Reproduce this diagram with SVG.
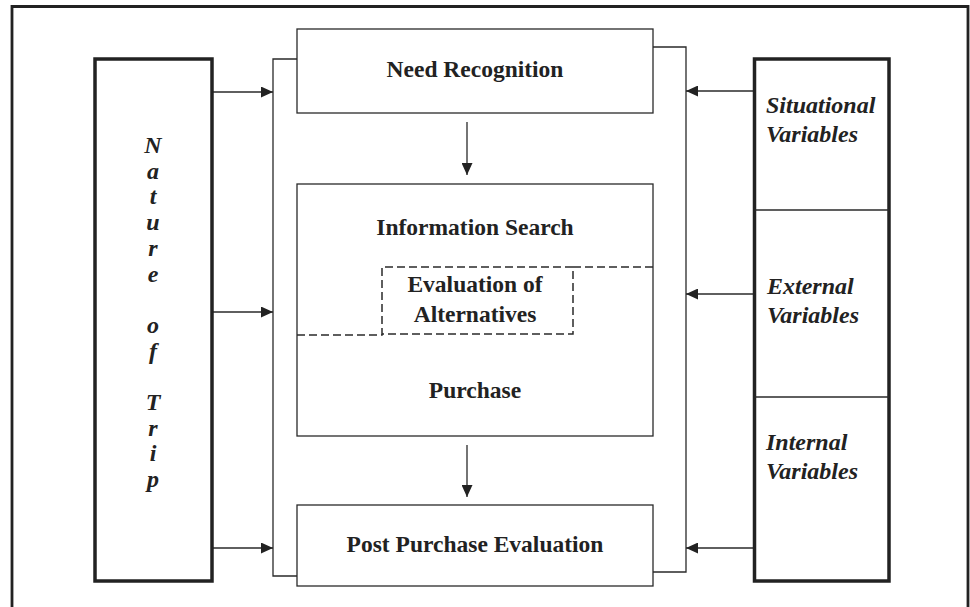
<svg xmlns="http://www.w3.org/2000/svg" width="970" height="607" viewBox="0 0 970 607">
<style>
.thin{fill:none;stroke:#2a2a2a;stroke-width:1.3}
.thick{fill:#fff;stroke:#222;stroke-width:3.5}
.box{fill:#fff;stroke:#2a2a2a;stroke-width:1.3}
.dash{fill:none;stroke:#2a2a2a;stroke-width:1.5;stroke-dasharray:8 4}
.t{font-family:"Liberation Serif","Times New Roman",serif;font-weight:bold;font-size:23.5px;fill:#222;text-anchor:middle}
.ti{font-family:"Liberation Serif","Times New Roman",serif;font-weight:bold;font-style:italic;font-size:24px;fill:#222}
.tc{text-anchor:middle}
</style>
<defs>
<marker id="ah" markerWidth="12" markerHeight="11" refX="12" refY="5.5" orient="auto" markerUnits="userSpaceOnUse">
<path d="M0,0 L12,5.5 L0,11 Z" fill="#222"/>
</marker>
</defs>
<rect width="970" height="607" fill="#fff"/>
<g id="frame">
<path d="M12,607 V6.5 H968 V607" fill="none" stroke="#222" stroke-width="2.8"/>
</g>
<g id="connectors">
<path class="thin" d="M297,59 H273 V576 H297"/>
<path class="thin" d="M653,47 H686 V572 H653"/>
<line class="thin" x1="213" y1="92" x2="273" y2="92" marker-end="url(#ah)"/>
<line class="thin" x1="213" y1="312" x2="273" y2="312" marker-end="url(#ah)"/>
<line class="thin" x1="213" y1="548" x2="273" y2="548" marker-end="url(#ah)"/>
<line class="thin" x1="754" y1="91" x2="686" y2="91" marker-end="url(#ah)"/>
<line class="thin" x1="754" y1="294" x2="686" y2="294" marker-end="url(#ah)"/>
<line class="thin" x1="754" y1="548" x2="686" y2="548" marker-end="url(#ah)"/>
<line class="thin" x1="467" y1="122" x2="467" y2="175" marker-end="url(#ah)"/>
<line class="thin" x1="467" y1="445" x2="467" y2="497" marker-end="url(#ah)"/>
</g>
<g id="nature-of-trip">
<rect class="thick" x="95" y="59" width="117" height="522"/>
<text class="ti tc" x="153" y="153">N</text>
<text class="ti tc" x="153" y="179">a</text>
<text class="ti tc" x="153" y="204">t</text>
<text class="ti tc" x="153" y="230">u</text>
<text class="ti tc" x="153" y="256">r</text>
<text class="ti tc" x="153" y="282">e</text>
<text class="ti tc" x="153" y="333">o</text>
<text class="ti tc" x="153" y="359">f</text>
<text class="ti tc" x="153" y="410">T</text>
<text class="ti tc" x="153" y="436">r</text>
<text class="ti tc" x="153" y="461">i</text>
<text class="ti tc" x="153" y="487">p</text>
</g>
<g id="variables">
<rect class="thick" x="754.5" y="59" width="134.5" height="522"/>
<line class="thin" x1="754.5" y1="210" x2="889" y2="210"/>
<line class="thin" x1="754.5" y1="397" x2="889" y2="397"/>
</g>
<g id="situational-variables">
<text class="ti" x="766" y="113">Situational</text>
<text class="ti" x="766" y="142">Variables</text>
</g>
<g id="external-variables">
<text class="ti" x="767" y="294">External</text>
<text class="ti" x="767" y="323">Variables</text>
</g>
<g id="internal-variables">
<text class="ti" x="766" y="450">Internal</text>
<text class="ti" x="766" y="479">Variables</text>
</g>
<g id="need-recognition">
<rect class="box" x="297" y="29" width="356" height="84"/>
<text class="t" x="475" y="77">Need Recognition</text>
</g>
<g id="information-search">
<rect class="box" x="297" y="184" width="356" height="252"/>
<text class="t" x="475" y="235">Information Search</text>
</g>
<g id="evaluation-of-alternatives">
<path class="dash" d="M297,335 H382 V267 H573 V334 H382"/>
<path class="dash" d="M573,267 H653"/>
<text class="t" x="475" y="292">Evaluation of</text>
<text class="t" x="475" y="322">Alternatives</text>
</g>
<g id="purchase">
<text class="t" x="475" y="398">Purchase</text>
</g>
<g id="post-purchase-evaluation">
<rect class="box" x="297" y="505" width="356" height="81"/>
<text class="t" x="475" y="552">Post Purchase Evaluation</text>
</g>
</svg>
